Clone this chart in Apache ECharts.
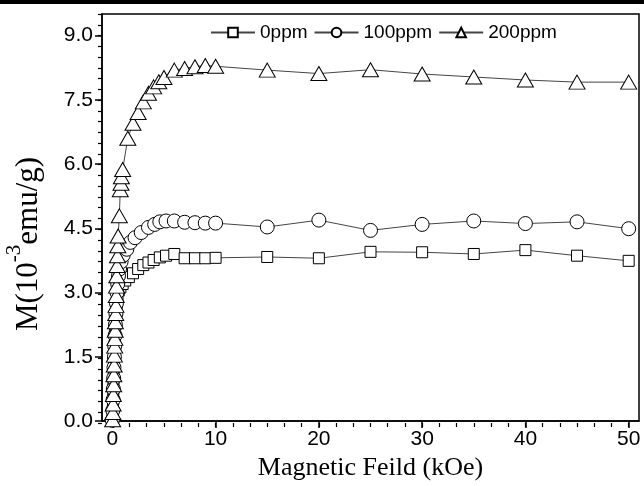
<!DOCTYPE html>
<html>
<head>
<meta charset="utf-8">
<script src="https://cdn.jsdelivr.net/npm/echarts@6/dist/echarts.min.js"></script>
<style>
  html, body { margin: 0; padding: 0; background: #fff; }
  #chart { width: 644px; height: 486px; }
</style>
</head>
<body>
<div id="chart"></div>
<script>
  // field in kOe, M in 10^-3 emu/g
  var field0 = [0, 0.05, 0.08, 0.1, 0.12, 0.15, 0.18, 0.21, 0.25, 0.3, 0.35, 0.42, 0.5, 0.62, 0.78, 1.0, 1.25, 1.6, 2.0, 2.5,
    3.0, 3.5, 4.0, 4.6, 5.2, 6, 7, 8, 9, 10, 15, 20, 25, 30, 35, 40, 45, 50];
  var m0 = [0.02, 0.25, 0.5, 0.75, 1.0, 1.25, 1.5, 1.75, 2.0, 2.25, 2.5, 2.75, 2.95, 3.05, 3.12, 3.2, 3.28, 3.36, 3.45, 3.55,
    3.64, 3.7, 3.76, 3.82, 3.86, 3.9, 3.8, 3.8, 3.8, 3.81, 3.83, 3.8, 3.95, 3.94, 3.9, 3.99, 3.86, 3.74];

  var field100 = [0, 0.05, 0.08, 0.1, 0.13, 0.16, 0.2, 0.23, 0.27, 0.3, 0.35, 0.4, 0.45, 0.52, 0.6, 0.7, 0.85, 1.05, 1.4, 1.75,
    2.2, 2.8, 3.5, 4.1, 4.6, 5.2, 6, 7, 8, 9, 10, 15, 20, 25, 30, 35, 40, 45, 50];
  var m100 = [0.02, 0.25, 0.5, 0.75, 1.0, 1.25, 1.5, 1.75, 2.0, 2.25, 2.5, 2.75, 3.0, 3.2, 3.39, 3.55, 3.72, 3.87, 4.01, 4.17,
    4.28, 4.4, 4.52, 4.59, 4.65, 4.67, 4.67, 4.64, 4.63, 4.62, 4.62, 4.53, 4.69, 4.45, 4.59, 4.67, 4.61, 4.65, 4.49];

  var field200 = [0.03, 0.05, 0.08, 0.1, 0.13, 0.15, 0.18, 0.2, 0.23, 0.25, 0.28, 0.3, 0.33, 0.35, 0.38, 0.4, 0.43, 0.46, 0.5, 0.53,
    0.56, 0.68, 0.77, 0.84, 0.88, 1.0, 1.5, 2.0, 2.5, 3.0, 3.5, 4.0, 4.5, 5.0, 6, 7, 8, 9, 10, 15, 20, 25, 30, 35, 40, 45, 50];
  var m200 = [0.03, 0.2, 0.4, 0.62, 0.85, 1.08, 1.31, 1.54, 1.75, 1.93, 2.12, 2.32, 2.51, 2.7, 2.93, 3.15, 3.39, 3.63, 3.86, 4.09,
    4.32, 4.79, 5.4, 5.55, 5.7, 5.87, 6.6, 6.95, 7.2, 7.45, 7.65, 7.8, 7.92, 8.02, 8.19, 8.23, 8.27, 8.3, 8.28, 8.19,
    8.11, 8.2, 8.1, 8.03, 7.96, 7.91, 7.91];

  var seriesNames = ['0ppm', '100ppm', '200ppm'];
  var xTicks = [0, 10, 20, 30, 40, 50];
  var yTicks = [0, 1.5, 3.0, 4.5, 6.0, 7.5, 9.0];

  function pairs(xs, ys) {
    return xs.map(function (x, i) { return [x, ys[i]]; });
  }
  // minor ticks: 5 between each pair of majors (origin style), plus extra steps up to the axis end
  function minorOf(ticks, n, end) {
    var out = [];
    var step = (ticks[1] - ticks[0]) / n;
    for (var v = ticks[0]; v <= end + 1e-9; v += step) out.push(+v.toFixed(4));
    return out;
  }

  var chart = echarts.init(document.getElementById('chart'));

  var sans = 'Liberation Sans';
  var serif = 'Liberation Serif';
  var gridBox = { left: 102, right: 5, top: 14, bottom: 63 };

  function mkSeries(name, xs, ys, symbol, size) {
    return {
      name: name,
      type: 'line',
      xAxisIndex: 0,
      yAxisIndex: 0,
      data: pairs(xs, ys),
      symbol: symbol,
      symbolSize: size,
      itemStyle: { color: '#fff', borderColor: '#000', borderWidth: 1 },
      lineStyle: { color: '#444', width: 1 },
      emphasis: { disabled: true },
      animation: false,
      clip: false
    };
  }

  chart.setOption({
    animation: false,
    grid: [
      Object.assign({ show: true, borderColor: '#000', borderWidth: 1.5, backgroundColor: 'transparent' }, gridBox),
      Object.assign({ show: false }, gridBox)
    ],
    legend: {
      data: seriesNames,
      left: 205,
      top: 18,
      itemWidth: 44,
      itemHeight: 12,
      itemGap: 6,
      textStyle: { fontFamily: sans, fontSize: 19, color: '#000' }
    },
    xAxis: [
      {
        type: 'value', gridIndex: 0, min: -1, max: 51,
        name: 'Magnetic Feild (kOe)',
        nameLocation: 'middle',
        nameGap: 33,
        nameTextStyle: { fontFamily: serif, fontSize: 26, color: '#000' },
        axisLine: { onZero: false, lineStyle: { color: '#000', width: 1.5 } },
        axisTick: { customValues: xTicks, length: 7, lineStyle: { color: '#000', width: 1.5 } },
        axisLabel: { customValues: xTicks, fontFamily: sans, fontSize: 21, color: '#000', margin: 8 },
        splitLine: { show: false }
      },
      {
        type: 'value', gridIndex: 1, min: -1, max: 51,
        axisLine: { show: false, onZero: false },
        axisTick: { customValues: minorOf(xTicks, 6, 50), length: 4, lineStyle: { color: '#000', width: 1.2 } },
        axisLabel: { show: false },
        splitLine: { show: false }
      }
    ],
    yAxis: [
      {
        type: 'value', gridIndex: 0, min: 0, max: 9.5,
        axisLine: { onZero: false, lineStyle: { color: '#000', width: 1.5 } },
        axisTick: { customValues: yTicks, length: 7, lineStyle: { color: '#000', width: 1.5 } },
        axisLabel: {
          customValues: yTicks, fontFamily: sans, fontSize: 21, color: '#000', margin: 9,
          formatter: function (v) { return v.toFixed(1); }
        },
        splitLine: { show: false }
      },
      {
        type: 'value', gridIndex: 1, min: 0, max: 9.5,
        axisLine: { show: false, onZero: false },
        axisTick: { customValues: minorOf(yTicks, 6, 9.5), length: 4, lineStyle: { color: '#000', width: 1.2 } },
        axisLabel: { show: false },
        splitLine: { show: false }
      }
    ],
    graphic: [
      { type: 'rect', shape: { x: 0, y: 0, width: 644, height: 4 }, style: { fill: '#000' } },
      {
        type: 'text',
        x: 24, y: 244,
        rotation: Math.PI / 2,
        style: {
          text: '{a|M(10}{s|-3}{a|emu/g)}',
          textAlign: 'center',
          textVerticalAlign: 'middle',
          rich: {
            a: { fontFamily: serif, fontSize: 31, color: '#000', lineHeight: 40, verticalAlign: 'bottom' },
            s: { fontFamily: serif, fontSize: 21, color: '#000', lineHeight: 40, verticalAlign: 'top' }
          }
        }
      }
    ],
    series: [
      mkSeries(seriesNames[0], field0, m0, 'rect', 11),
      mkSeries(seriesNames[1], field100, m100, 'circle', 14),
      mkSeries(seriesNames[2], field200, m200, 'triangle', [16, 14])
    ]
  });
</script>
</body>
</html>
